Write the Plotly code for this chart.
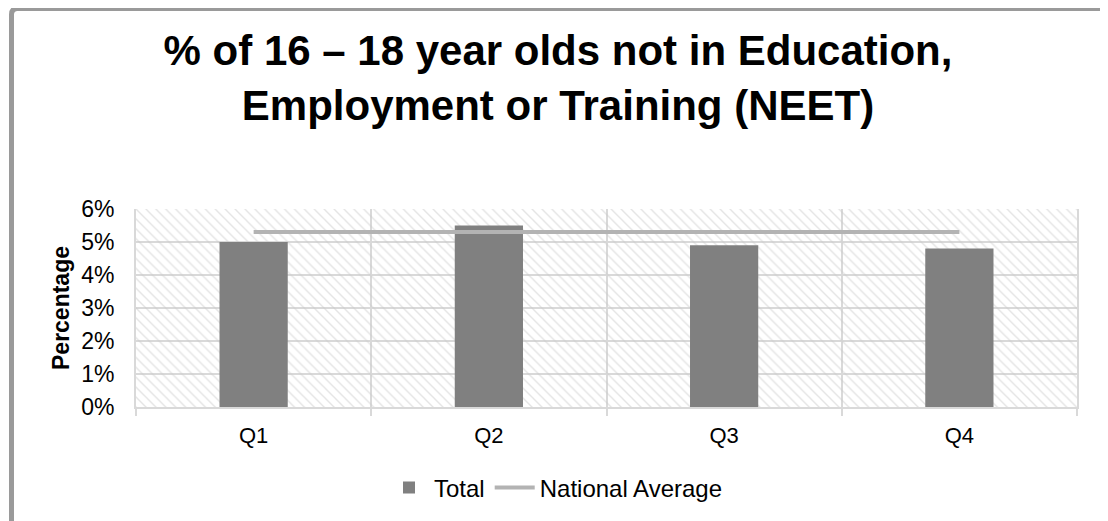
import plotly.graph_objects as go

# ---- data ----
quarters = ["Q1", "Q2", "Q3", "Q4"]
total = [0.050, 0.055, 0.049, 0.048]
national_average = [0.053, 0.053, 0.053, 0.053]
y_tick_values = [0.00, 0.01, 0.02, 0.03, 0.04, 0.05, 0.06]
title_text = "% of 16 – 18 year olds not in Education,<br>Employment or Training (NEET)"

# page body adds an 8px offset; figure is sized so it ends at the window edge
OFF = 8
W, H = 1108 - OFF, 521 - OFF
FONT = "Liberation Sans, Arial, sans-serif"


def px(x):
    return (x - OFF) / W


def py(y):
    return 1 - (y - OFF) / H


fig = go.Figure()

# hatched plot-area background (decoration)
fig.add_trace(go.Bar(
    x=quarters, y=[y_tick_values[-1]] * len(quarters), width=1,
    marker=dict(color="rgba(0,0,0,0)", line=dict(width=0),
                pattern=dict(shape="\\", fgcolor="#c9c9c9", bgcolor="rgba(0,0,0,0)",
                             size=7, solidity=0.2)),
    showlegend=False, hoverinfo="skip",
))

fig.add_trace(go.Bar(
    x=quarters, y=total, name="Total", width=0.29,
    marker=dict(color="#808080", line=dict(width=0)),
))

fig.add_trace(go.Scatter(
    x=quarters, y=national_average, name="National Average", mode="lines",
    line=dict(color="#b3b3b3", width=4),
))

# outer rounded border
x0, x1 = px(11.5), px(1105.5)
y0, y1 = py(8.5), py(560)
r = 6
path = (f"M {x0} {y1} L {x0} {py(8.5 + r)} Q {x0} {y0} {px(11.5 + r)} {y0} "
        f"L {x1} {y0} L {x1} {y1}")
fig.add_shape(type="path", xref="paper", yref="paper", path=path,
              line=dict(color="#9a9a9a", width=5))

fig.update_layout(
    width=W, height=H,
    margin=dict(l=0, r=0, t=0, b=0, autoexpand=False),
    paper_bgcolor="white",
    plot_bgcolor="white",
    barmode="overlay",
    font=dict(family=FONT, color="black"),
    title=dict(text=title_text, x=0.5, xanchor="center", xref="container",
               y=1 - (65 - OFF) / H, yanchor="top", yref="container",
               font=dict(family=FONT, size=42, color="black", weight="bold")),
    xaxis=dict(
        domain=[px(136), px(1077)],
        type="category",
        tickson="boundaries",
        showgrid=True, gridcolor="#d9d9d9", gridwidth=2,
        ticks="outside", ticklen=7, tickcolor="#d9d9d9", tickwidth=2,
        showline=True, linecolor="#d9d9d9", linewidth=2,
        tickfont=dict(size=22, family=FONT, color="black"),
        ticklabelstandoff=8,
    ),
    yaxis=dict(
        domain=[py(407), py(209)],
        range=[0, 0.06],
        tickvals=y_tick_values,
        tickformat=".0%",
        showgrid=True, gridcolor="#d9d9d9", gridwidth=2,
        showline=True, linecolor="#d9d9d9", linewidth=2, mirror=True,
        zeroline=False,
        ticks="",
        ticklabelstandoff=15,
        tickfont=dict(size=23, family=FONT, color="black"),
        title=dict(text="Percentage", standoff=5,
                   font=dict(size=23, family=FONT, color="black", weight="bold")),
    ),
    legend=dict(orientation="h", x=px(556), xanchor="center", y=py(488), yanchor="middle",
                font=dict(size=24, family=FONT, color="black"),
                itemwidth=40, bgcolor="rgba(0,0,0,0)"),
    hovermode=False,
)

fig.write_html("out.html")
